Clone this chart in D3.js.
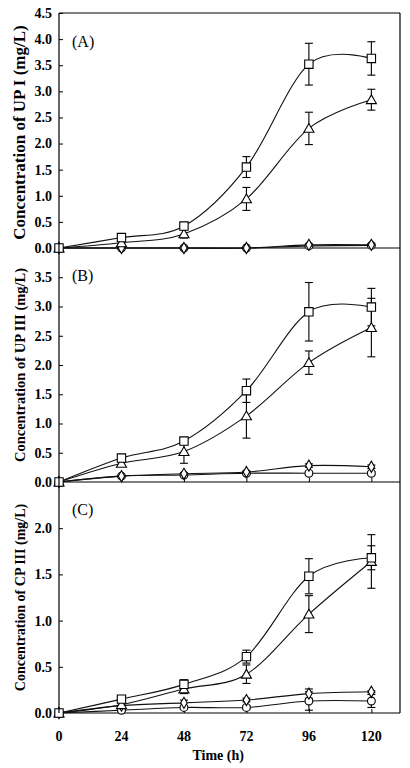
<!DOCTYPE html>
<html><head><meta charset="utf-8">
<script src="https://cdn.jsdelivr.net/npm/d3@7"></script>
<style>body{margin:0;background:#fff}svg{display:block}</style>
</head><body>
<script>
// ---- data ----
const times = [0, 24, 48, 72, 96, 120];
const xTicks = [0, 24, 48, 72, 96, 120];

const panelLabels = ["(A)", "(B)", "(C)"];
const yTitles = ["Concentration of UP I (mg/L)", "Concentration of UP III (mg/L)", "Concentration of CP III (mg/L)"];
const yMax = [4.5, 4.0, 2.5];
const yTickValsA = [0, 0.5, 1.0, 1.5, 2.0, 2.5, 3.0, 3.5, 4.0, 4.5];
const yTickValsB = [0, 0.5, 1.0, 1.5, 2.0, 2.5, 3.0, 3.5];
const yTickValsC = [0, 0.5, 1.0, 1.5, 2.0];

// Panel A (UP I)
const aSquare   = [0, 0.20, 0.42, 1.55, 3.52, 3.63];
const aSquareE  = [0, 0.03, 0.05, 0.20, 0.40, 0.32];
const aTri      = [0, 0.10, 0.27, 0.94, 2.29, 2.84];
const aTriE     = [0, 0.03, 0.08, 0.22, 0.31, 0.20];
const aDia      = [0, 0, 0, 0, 0.06, 0.06];
const aDiaE     = [0, 0, 0, 0, 0.02, 0.02];
const aCir      = [0, 0, 0, 0, 0.04, 0.05];
const aCirE     = [0, 0, 0, 0, 0, 0];

// Panel B (UP III)
const bSquare   = [0, 0.41, 0.70, 1.56, 2.91, 2.99];
const bSquareE  = [0, 0.03, 0.06, 0.20, 0.50, 0.32];
const bTri      = [0, 0.32, 0.52, 1.13, 2.04, 2.64];
const bTriE     = [0, 0.05, 0.20, 0.38, 0.20, 0.50];
const bDia      = [0, 0.10, 0.14, 0.17, 0.28, 0.26];
const bDiaE     = [0, 0, 0.02, 0.02, 0.03, 0.03];
const bCir      = [0, 0.10, 0.12, 0.15, 0.15, 0.15];
const bCirE     = [0, 0, 0.02, 0.02, 0.03, 0.03];

// Panel C (CP III)
const cSquare   = [0, 0.15, 0.31, 0.61, 1.48, 1.68];
const cSquareE  = [0, 0.03, 0.05, 0.07, 0.19, 0.13];
const cTri      = [0, 0.09, 0.26, 0.42, 1.07, 1.64];
const cTriE     = [0, 0.03, 0.05, 0.10, 0.20, 0.29];
const cDia      = [0, 0.08, 0.11, 0.14, 0.21, 0.23];
const cDiaE     = [0, 0.02, 0.03, 0.02, 0.05, 0.01];
const cCir      = [0, 0.03, 0.06, 0.06, 0.13, 0.13];
const cCirE     = [0, 0.01, 0.02, 0.02, 0.10, 0.07];

const panels = [
  {label: panelLabels[0], title: yTitles[0], ymax: yMax[0], ticks: yTickValsA, titleSize: 17,
   series: [["square", aSquare, aSquareE], ["triangle", aTri, aTriE], ["diamond", aDia, aDiaE], ["circle", aCir, aCirE]]},
  {label: panelLabels[1], title: yTitles[1], ymax: yMax[1], ticks: yTickValsB, titleSize: 14.5,
   series: [["square", bSquare, bSquareE], ["triangle", bTri, bTriE], ["diamond", bDia, bDiaE], ["circle", bCir, bCirE]]},
  {label: panelLabels[2], title: yTitles[2], ymax: yMax[2], ticks: yTickValsC, titleSize: 14,
   series: [["square", cSquare, cSquareE], ["triangle", cTri, cTriE], ["diamond", cDia, cDiaE], ["circle", cCir, cCirE]]}
];

// ---- layout ----
const W = 410, H = 768;
const left = 59, right = 400;
const bounds = [[13, 248], [248, 482], [482, 713]];
const serif = "'Liberation Serif','Times New Roman',serif";

const svg = d3.select("body").append("svg").attr("width", W).attr("height", H);
const x = d3.scaleLinear().domain([0, 131]).range([left, right]);

const symbols = {
  square: d3.symbol().type(d3.symbolSquare).size(70),
  triangle: d3.symbol().type(d3.symbolTriangle).size(44),
  diamond: d3.symbol().type(d3.symbolDiamond).size(36),
  circle: d3.symbol().type(d3.symbolCircle).size(48)
};

panels.forEach((p, i) => {
  const [top, bot] = bounds[i];
  const y = d3.scaleLinear().domain([0, p.ymax]).range([bot, top]);
  const g = svg.append("g");

  // y axis (inward ticks)
  const yAxis = d3.axisRight(y).tickValues(p.ticks).tickSize(4).tickFormat("");
  g.append("g").attr("transform", `translate(${left},0)`).call(yAxis)
    .call(s => s.select(".domain").remove())
    .selectAll("line").attr("stroke", "#000");
  g.selectAll(".ylab").data(p.ticks).join("text")
    .attr("x", left - 7).attr("y", d => y(d)).attr("dy", "0.35em")
    .attr("text-anchor", "end").attr("font-family", serif).attr("font-weight", "bold")
    .attr("font-size", 14).text(d => d3.format(".1f")(d));

  // x axis line + inward ticks
  const xAxis = d3.axisTop(x).tickValues(xTicks).tickSize(4).tickSizeOuter(0).tickFormat("");
  g.append("g").attr("transform", `translate(0,${y(0)})`).call(xAxis)
    .call(s => s.select(".domain").remove())
    .selectAll("line").attr("stroke", "#000");
  g.append("line").attr("x1", left).attr("x2", right).attr("y1", y(0)).attr("y2", y(0))
    .attr("stroke", "#000").attr("stroke-width", 1.2);

  // y title
  g.append("text")
    .attr("transform", `translate(25,${(top + bot) / 2 + (i === 0 ? 2 : 0)}) rotate(-90)`)
    .attr("text-anchor", "middle").attr("font-family", serif).attr("font-weight", "bold")
    .attr("font-size", p.titleSize).text(p.title);

  // panel label
  g.append("text").attr("x", 72).attr("y", top + (i === 0 ? 34 : 33))
    .attr("font-family", serif).attr("font-size", 16).text(p.label);

  const line = d3.line().x((d, j) => x(times[j])).y(d => y(d)).curve(d3.curveCardinal.tension(0));

  // error bars
  p.series.forEach(([shape, vals, errs]) => {
    const eg = g.append("g").attr("stroke", "#000").attr("stroke-width", 1.1);
    vals.forEach((v, j) => {
      const e = errs[j];
      if (!e) return;
      const cx = x(times[j]);
      eg.append("line").attr("x1", cx).attr("x2", cx).attr("y1", y(v - e)).attr("y2", y(v + e));
      eg.append("line").attr("x1", cx - 4).attr("x2", cx + 4).attr("y1", y(v - e)).attr("y2", y(v - e));
      eg.append("line").attr("x1", cx - 4).attr("x2", cx + 4).attr("y1", y(v + e)).attr("y2", y(v + e));
    });
  });
  // lines
  p.series.forEach(([shape, vals]) => {
    g.append("path").datum(vals).attr("d", line).attr("fill", "none")
      .attr("stroke", "#111").attr("stroke-width", 1.1);
  });
  // markers
  p.series.slice().reverse().forEach(([shape, vals]) => {
    g.selectAll(null).data(vals).join("path")
      .attr("transform", (d, j) => `translate(${x(times[j])},${y(d) + (shape === "triangle" ? 1 : 0)})`)
      .attr("d", symbols[shape]).attr("fill", "#fff").attr("stroke", "#000").attr("stroke-width", 1.1);
  });
});

// frame
svg.append("line").attr("x1", left).attr("x2", left).attr("y1", 13).attr("y2", 713).attr("stroke", "#000").attr("stroke-width", 1.2);
svg.append("line").attr("x1", right).attr("x2", right).attr("y1", 13).attr("y2", 713).attr("stroke", "#000").attr("stroke-width", 1.2);
svg.append("line").attr("x1", left).attr("x2", right).attr("y1", 13).attr("y2", 13).attr("stroke", "#000").attr("stroke-width", 1.2);

// x tick labels
svg.selectAll(".xl").data(xTicks).join("text")
  .attr("x", d => x(d)).attr("y", 741).attr("text-anchor", "middle")
  .attr("font-family", serif).attr("font-weight", "bold").attr("font-size", 14).text(d => d);
svg.append("text").attr("x", (x(0) + x(120)) / 2 + 3).attr("y", 760).attr("text-anchor", "middle")
  .attr("font-family", serif).attr("font-weight", "bold").attr("font-size", 14).text("Time (h)");
</script>
</body></html>
